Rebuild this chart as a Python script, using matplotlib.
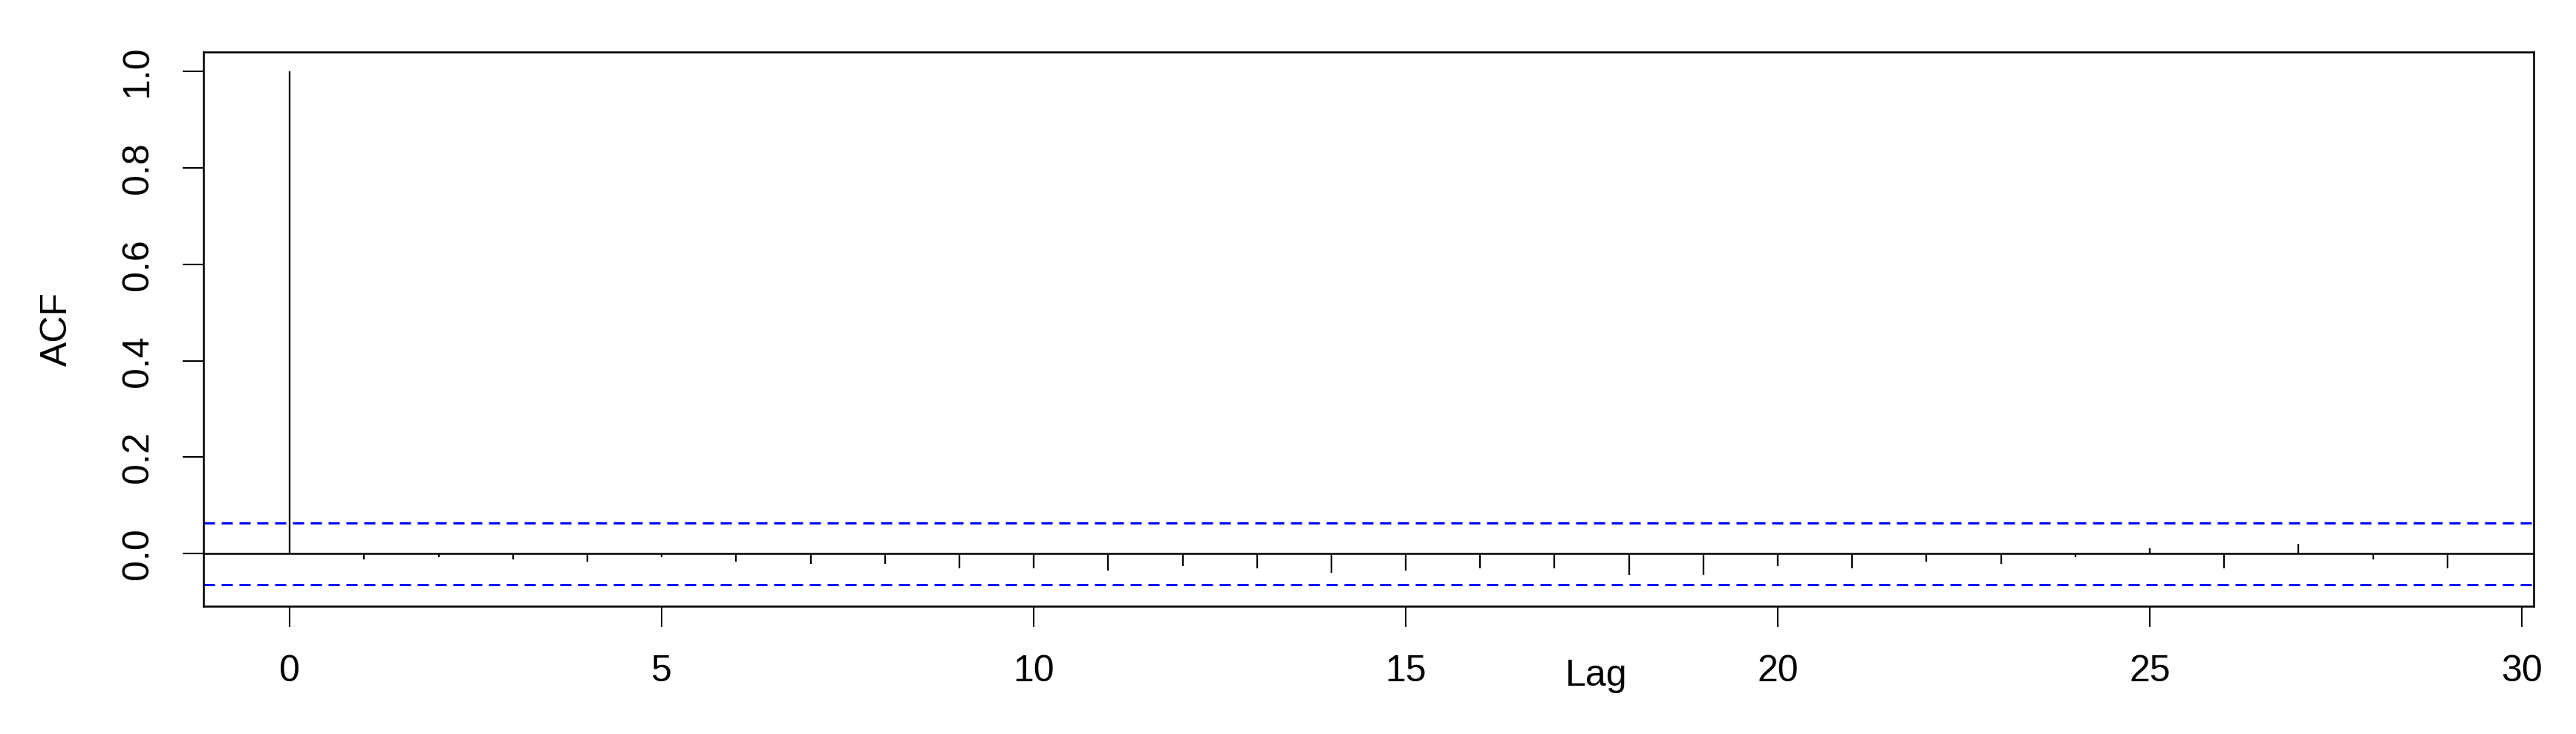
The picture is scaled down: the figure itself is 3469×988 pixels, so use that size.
import numpy as np
import matplotlib
matplotlib.use('Agg')
import matplotlib.pyplot as plt

plt.rcParams['font.family'] = ['Liberation Sans', 'DejaVu Sans']

# ACF values
lags = np.arange(0, 30)
acf = [1.0, -0.0113, -0.0067, -0.0113, -0.0159, -0.0067, -0.0159, -0.0206,
       -0.0206, -0.0298, -0.0298, -0.0344, -0.0252, -0.0298, -0.039, -0.0344,
       -0.0298, -0.0298, -0.0437, -0.0437, -0.0252, -0.0298, -0.0159, -0.0206,
       -0.0067, 0.0113, -0.0298, 0.0206, -0.0113, -0.0298]
ci = 0.0643
xticks = [0, 5, 10, 15, 20, 25, 30]
yticks = [0.0, 0.2, 0.4, 0.6, 0.8, 1.0]

W, H, dpi = 3469, 988, 300
fs = 12
fig = plt.figure(figsize=(W/dpi, H/dpi), dpi=dpi)
ax = fig.add_axes([274/W, 1-816/H, (3412-274)/W, (816-70)/H])

ax.vlines(lags, 0, acf, color='black', lw=0.55)
ax.axhline(0, color='black', lw=0.6)
ax.axhline(ci, color='blue', lw=0.72, dashes=(5, 3))
ax.axhline(-ci, color='blue', lw=0.72, dashes=(5, 3))

ax.set_xlim(-1.16, 30.16)
ax.set_ylim(-0.109, 1.0405)

ax.set_xticks(xticks)
ax.set_xticklabels([str(t) for t in xticks], fontsize=fs)
ax.set_yticks(yticks)
ax.set_yticklabels(['%.1f' % t for t in yticks], fontsize=fs, rotation=90, va='center')
ax.tick_params(direction='out', length=6.7, width=0.5, pad=9, colors='black')

for s in ax.spines.values():
    s.set_linewidth(0.62)

fig.text(77/W, 1-443/H, 'ACF', rotation=90, ha='center', va='center', fontsize=fs)
fig.text(2150/W, 1-923/H, 'Lag', ha='center', va='baseline', fontsize=fs)

fig.savefig('out.png', dpi=dpi)
